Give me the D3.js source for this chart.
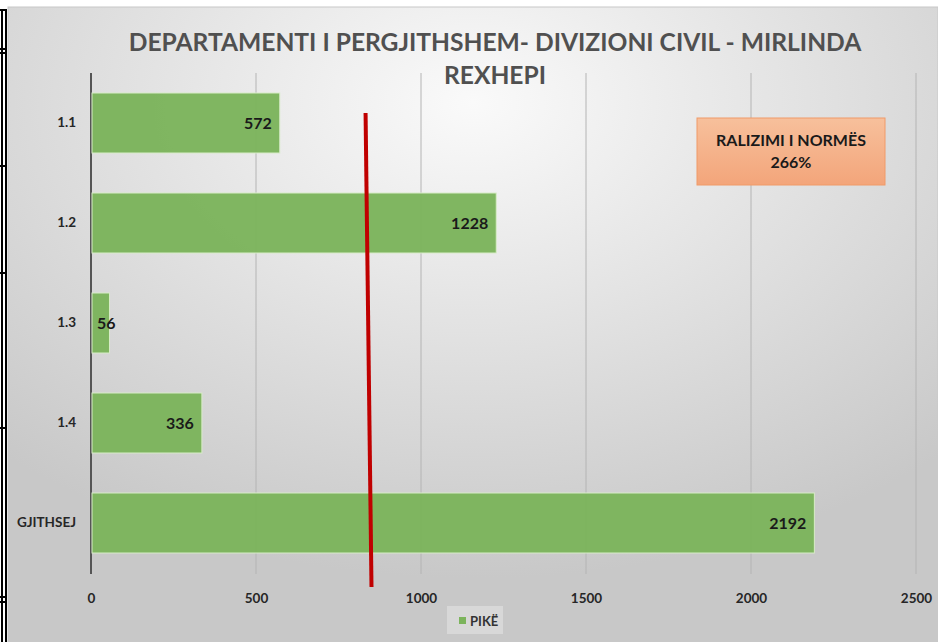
<!DOCTYPE html>
<html>
<head>
<meta charset="utf-8">
<script src="https://cdn.jsdelivr.net/npm/d3@7"></script>
<style>
 body { margin: 0; background: #fff; }
 svg { display: block; font-family: Lato, 'Open Sans', sans-serif; }
</style>
</head>
<body>
<svg width="938" height="642"></svg>
<script>

// Data.

var categories = ['1.1', '1.2', '1.3', '1.4', 'GJITHSEJ'];
var points = [572, 1228, 56, 336, 2192];
var ticks = [0, 500, 1000, 1500, 2000, 2500];
var normLine = [832, 850]; // top and bottom value of the red norm line
var titleLines = ['DEPARTAMENTI I PERGJITHSHEM- DIVIZIONI CIVIL - MIRLINDA', 'REXHEPI'];
var boxLines = ['RALIZIMI I NORMËS', '266%'];
var seriesName = 'PIKË';

var svg = d3.select('svg');
var defs = svg.append('defs');

// Background of the chart, light in the upper middle and grey at the edges.

var bg = defs.append('radialGradient').attr('id', 'bg')
 .attr('cx', '50%').attr('cy', '15%').attr('r', '75%');
bg.append('stop').attr('offset', '0%').attr('stop-color', '#fafafa');
bg.append('stop').attr('offset', '100%').attr('stop-color', '#c8c8c8');

var box = defs.append('linearGradient').attr('id', 'box')
 .attr('x1', 0).attr('y1', 0).attr('x2', 0).attr('y2', 1);
box.append('stop').attr('offset', '0%').attr('stop-color', '#f7c09c');
box.append('stop').attr('offset', '100%').attr('stop-color', '#f3a57a');

svg.append('rect')
 .attr('x', 8).attr('y', 7).attr('width', 930).attr('height', 635)
 .attr('fill', 'url(#bg)').attr('stroke', '#c8c8c8');

// Leftover table borders at the left edge.

var frame = svg.append('g').attr('fill', '#000');
frame.append('rect').attr('x', 1).attr('y', 9).attr('width', 2).attr('height', 633);
frame.append('rect').attr('x', 5).attr('y', 9).attr('width', 2).attr('height', 633);
[10, 49, 53, 166, 273, 428, 597, 602].forEach(function(y) {
 frame.append('rect').attr('x', 0).attr('y', y - 1).attr('width', 7).attr('height', 2);
});

// Scales.

var x = d3.scaleLinear().domain([0, 2500]).range([91, 916]);
var y = d3.scaleBand().domain(categories).range([73, 573]).paddingInner(0.4).paddingOuter(0.2);

// Title.

svg.append('g').selectAll('text')
 .data(titleLines)
 .enter().append('text')
 .attr('x', 495)
 .attr('y', function(d, i) { return 51 + i * 33; })
 .attr('text-anchor', 'middle')
 .attr('font-size', 24.6).attr('font-weight', 'bold').attr('fill', '#505050')
 .text(function(d) { return d; });

// Gridlines and axes.

svg.append('g').selectAll('line')
 .data(ticks.slice(1))
 .enter().append('line')
 .attr('x1', function(d) { return x(d); }).attr('x2', function(d) { return x(d); })
 .attr('y1', 73).attr('y2', 574)
 .attr('stroke', '#b4b4b4').attr('stroke-width', 1);

var xAxis = svg.append('g')
 .attr('transform', 'translate(0,574)')
 .call(d3.axisBottom(x).tickValues(ticks).tickFormat(d3.format('d')).tickSize(0).tickPadding(19));
xAxis.select('.domain').remove();
xAxis.selectAll('text').attr('font-size', 13.5).attr('font-weight', 'bold').attr('fill', '#262626')
 .attr('font-family', 'Lato, sans-serif');

var yAxis = svg.append('g')
 .attr('transform', 'translate(91,0)')
 .call(d3.axisLeft(y).tickSize(0).tickPadding(15));
yAxis.select('.domain').attr('stroke', '#555').attr('stroke-width', 2).attr('d', 'M0,73V574');
yAxis.selectAll('text').attr('font-size', 13.5).attr('font-weight', 'bold').attr('fill', '#262626')
 .attr('font-family', 'Lato, sans-serif');

// Bars.

svg.append('g').selectAll('rect')
 .data(points)
 .enter().append('rect')
 .attr('x', x(0) + 1)
 .attr('y', function(d, i) { return y(categories[i]); })
 .attr('width', function(d) { return x(d) - x(0) - 1; })
 .attr('height', y.bandwidth())
 .attr('fill', '#7cb45c').attr('fill-opacity', 0.97)
 .attr('stroke', '#d8ecc8').attr('stroke-width', 1);

svg.append('g').selectAll('text')
 .data(points)
 .enter().append('text')
 .attr('x', function(d) { return x(d) - x(0) < 40 ? x(0) + 6 : x(d) - 8; })
 .attr('y', function(d, i) { return y(categories[i]) + y.bandwidth() / 2 + 5.5; })
 .attr('text-anchor', function(d) { return x(d) - x(0) < 40 ? 'start' : 'end'; })
 .attr('font-size', 16).attr('font-weight', 'bold').attr('fill', '#1a1a1a')
 .text(function(d) { return d; });

// Red norm line.

svg.append('line')
 .attr('x1', x(normLine[0])).attr('y1', y('1.1') + 20)
 .attr('x2', x(normLine[1])).attr('y2', 587)
 .attr('stroke', '#c00000').attr('stroke-width', 4);

// Text box.

var note = svg.append('g').attr('transform', 'translate(697,118)');
note.append('rect').attr('width', 188).attr('height', 67)
 .attr('fill', 'url(#box)').attr('stroke', '#f09a68');
note.selectAll('text')
 .data(boxLines)
 .enter().append('text')
 .attr('x', 94).attr('y', function(d, i) { return 28 + i * 22; })
 .attr('text-anchor', 'middle')
 .attr('font-size', 16).attr('font-weight', 'bold').attr('fill', '#1a1a1a')
 .text(function(d) { return d; });

// Legend.

var legend = svg.append('g').attr('transform', 'translate(447,606)');
legend.append('rect').attr('width', 56).attr('height', 28).attr('fill', '#e2e2e2').attr('opacity', 0.6);
legend.append('rect').attr('x', 12).attr('y', 11).attr('width', 7).attr('height', 7).attr('fill', '#7cb45c');
legend.append('text').attr('x', 23).attr('y', 19.5)
 .attr('font-size', 13).attr('font-weight', 'bold').attr('fill', '#333')
 .text(seriesName);

</script>
</body>
</html>
